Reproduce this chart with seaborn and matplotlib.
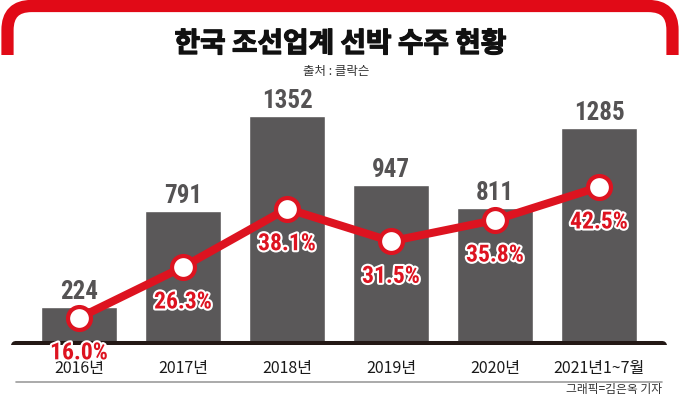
import numpy as np
import pandas as pd
import matplotlib
matplotlib.use("Agg")
import matplotlib.pyplot as plt
import seaborn as sns
from matplotlib import patheffects as pe
from matplotlib.path import Path
from matplotlib.patches import PathPatch
from matplotlib.lines import Line2D
from matplotlib.transforms import Affine2D
from matplotlib import font_manager as fm

# ---- data ----
categories = ["2016년", "2017년", "2018년", "2019년", "2020년", "2021년1~7월"]
orders = [224, 791, 1352, 947, 811, 1285]
share = [16.0, 26.3, 38.1, 31.5, 35.8, 42.5]
order_labels = ["224", "791", "1352", "947", "811", "1285"]
share_labels = ["16.0%", "26.3%", "38.1%", "31.5%", "35.8%", "42.5%"]
title = "한국 조선업계 선박 수주 현황"
source = "출처 : 클락슨"
credit = "그래픽=김은옥 기자"

RED = "#dd1320"
BAR = "#5a5859"
W, H = 680, 398

sns.set_theme(style="white")
plt.rcParams["font.family"] = ["Noto Sans CJK KR", "DejaVu Sans"]

# pick a condensed bold face for the numbers if available
names = {f.name for f in fm.fontManager.ttflist}
NUMFONT = [n for n in ["Roboto Condensed", "DejaVu Sans Condensed",
                       "Liberation Sans Narrow"] if n in names]
NUMFONT += ["Liberation Sans", "DejaVu Sans"]
cond = NUMFONT[0] != "Liberation Sans"
NUM_SIZE = 18 if cond else 16
PCT_SIZE = 17 if cond else 15

fig = plt.figure(figsize=(W / 100, H / 100), dpi=100)
px = Affine2D().scale(1 / W, -1 / H).translate(0, 1) + fig.transFigure

ax_top, ax_bot = 90, 345
ax = fig.add_axes([0, (H - ax_bot) / H, 1, (ax_bot - ax_top) / H])

df = pd.DataFrame({"cat": categories, "orders": orders, "share": share})
sns.barplot(data=df, x="cat", y="orders", order=categories, color=BAR,
            saturation=1, width=0.73, ax=ax, zorder=2)
ax.set_xlim(-79 / 104, (W - 79) / 104)
ax.set_ylim(0, (ax_bot - ax_top) / 0.1692)

for i, (v, lbl) in enumerate(zip(orders, order_labels)):
    ax.annotate(lbl, (i, v), xytext=(0, 5.8), textcoords="offset points",
                ha="center", va="baseline", fontsize=NUM_SIZE,
                fontweight="bold", color="#555354", family=NUMFONT)

ax.axhline(0, xmin=15 / W, xmax=662 / W, color="#231815", lw=6.5,
           solid_capstyle="round", zorder=3)

ax.set_xticks(range(len(categories)))
ax.set_xticklabels(categories, fontsize=11.5, color="#1a1a1a")
ax.tick_params(axis="x", length=0, pad=10.5)
ax.set_yticks([])
ax.set_xlabel("")
ax.set_ylabel("")
for s in ax.spines.values():
    s.set_visible(False)
ax.patch.set_alpha(0)

ax2 = ax.twinx()
sns.lineplot(x=np.arange(len(share)), y=share, ax=ax2, color=RED, lw=5.8,
             marker="o", markersize=16.5, markerfacecolor="white",
             markeredgecolor=RED, markeredgewidth=3)
ax2.set_xlim(-79 / 104, (W - 79) / 104)
ax2.set_ylim(10.49, 62.14)
ax2.set_yticks([])
ax2.set_ylabel("")
for s in ax2.spines.values():
    s.set_visible(False)

for i, (p, lbl) in enumerate(zip(share, share_labels)):
    ax2.annotate(lbl, (i, p), xytext=(0, -29.9), textcoords="offset points",
                 ha="center", va="baseline", fontsize=PCT_SIZE,
                 fontweight="bold", color=RED, family=NUMFONT,
                 path_effects=[pe.withStroke(linewidth=3, foreground="white")])

# red frame on top
r = 24
xl, xr, yt, yb = 7.5, 672.5, 6, 55
verts = [(xl, yb), (xl, yt + r), (xl, yt), (xl + r, yt), (xr - r, yt),
         (xr, yt), (xr, yt + r), (xr, yb)]
codes = [Path.MOVETO, Path.LINETO, Path.CURVE3, Path.CURVE3, Path.LINETO,
         Path.CURVE3, Path.CURVE3, Path.LINETO]
fig.add_artist(PathPatch(Path(verts, codes), transform=px, fill=False,
                         edgecolor="#e10a17", lw=8.8, capstyle="butt",
                         joinstyle="round"))

fig.text(340, 44, title, transform=px, ha="center", va="center",
         fontsize=20, fontweight="black", color="#111111",
         path_effects=[pe.withStroke(linewidth=0.9, foreground="#111111")])
fig.text(336, 72, source, transform=px, ha="center", va="center",
         fontsize=9, color="#333333")

fig.add_artist(Line2D([16, 662], [382, 382], transform=px, color="#9c9c9c",
                      lw=1.2))
fig.text(662, 390, credit, transform=px, ha="right", va="center",
         fontsize=8.5, color="#333333")

fig.savefig("out.png", dpi=100)
